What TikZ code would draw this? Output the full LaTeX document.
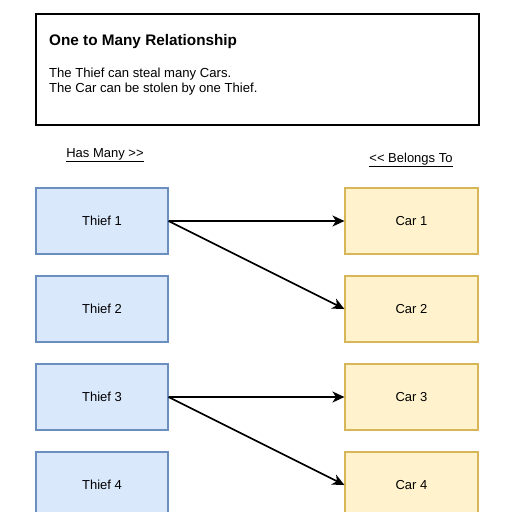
\documentclass[tikz,border=0pt]{standalone}
\usepackage{fontspec}
\setmainfont{Liberation Sans}[Ligatures=NoCommon]
\usetikzlibrary{arrows.meta}
\definecolor{bfill}{HTML}{DAE8FC}
\definecolor{bdraw}{HTML}{6C8EBF}
\definecolor{yfill}{HTML}{FFF2CC}
\definecolor{ydraw}{HTML}{D6B656}
\tikzset{
  thiefbox/.style={draw=bdraw, fill=bfill, line width=1.1pt, minimum width=132pt, minimum height=66pt, inner sep=0pt, font=\fontsize{13}{15}\selectfont},
  carbox/.style={draw=ydraw, fill=yfill, line width=1.1pt, minimum width=133pt, minimum height=66pt, inner sep=0pt, font=\fontsize{13}{15}\selectfont},
  rel/.style={draw=black, line width=1.7pt, -{Stealth[length=12pt,width=11pt,inset=3.5pt]}},
  lbl/.style={font=\fontsize{13}{15}\selectfont, inner sep=0pt}
}
\begin{document}
\begin{tikzpicture}[x=1pt,y=-1pt]
\useasboundingbox (0,0) rectangle (512,512);
\begin{scope}
\clip (0,0) rectangle (512,512);
\node[draw=black, line width=1.8pt, minimum width=443pt, minimum height=111pt, inner sep=0pt] (title) at (257.5,69.5) {};
\node[anchor=base west, inner sep=0pt, font=\bfseries\fontsize{15.3}{17}\selectfont] (head) at (49,45) {One to Many Relationship};
\node[anchor=base west, inner sep=0pt, font=\fontsize{13.1}{15}\selectfont] (desc1) at (49,77) {The Thief can steal many Cars.};
\node[anchor=base west, inner sep=0pt, font=\fontsize{13.1}{15}\selectfont] (desc2) at (49,92) {The Car can be stolen by one Thief.};
\node[lbl] (hasmany) at (105,155) {\underline{Has Many {>}{>}}};
\node[lbl] (belongs) at (411,160) {\underline{{<}{<} Belongs To}};
\node[thiefbox] (t1) at (102,221) {Thief 1};
\node[thiefbox] (t2) at (102,309) {Thief 2};
\node[thiefbox] (t3) at (102,397) {Thief 3};
\node[thiefbox] (t4) at (102,485) {Thief 4};
\node[carbox] (c1) at (411.5,221) {Car 1};
\node[carbox] (c2) at (411.5,309) {Car 2};
\node[carbox] (c3) at (411.5,397) {Car 3};
\node[carbox] (c4) at (411.5,485) {Car 4};
\draw[rel] (t1.east) -- (c1.west);
\draw[rel] (t1.east) -- (c2.west);
\draw[rel] (t3.east) -- (c3.west);
\draw[rel] (t3.east) -- (c4.west);
\end{scope}
\end{tikzpicture}
\end{document}
